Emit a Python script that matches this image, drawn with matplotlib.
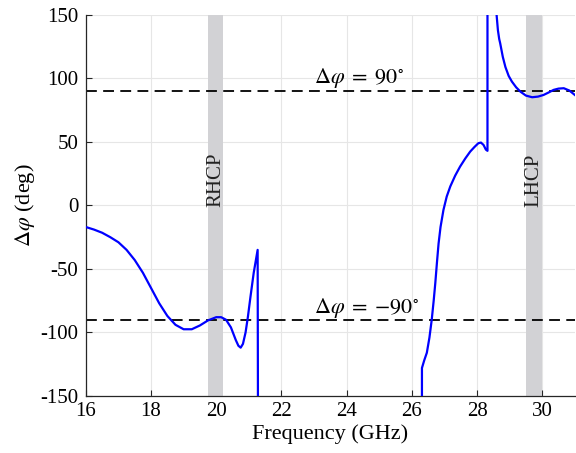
import numpy as np
import matplotlib
matplotlib.use("Agg")
import matplotlib.pyplot as plt

plt.rcParams['font.family'] = ['Liberation Serif', 'DejaVu Serif']
plt.rcParams['mathtext.fontset'] = 'stix'
plt.rcParams['axes.unicode_minus'] = False

# phase difference curve (GHz, deg); NaN breaks the line
freq_low = [16.0, 16.25, 16.5, 16.75, 17.0, 17.25, 17.5, 17.75, 18.0, 18.25,
            18.5, 18.75, 19.0, 19.25, 19.5, 19.75, 20.0, 20.15, 20.3, 20.45,
            20.6, 20.68, 20.75, 20.82, 20.9, 20.97, 21.05, 21.15, 21.27, 21.28]
phase_low = [-17, -19, -21.5, -25, -29, -35, -43, -53, -65, -77,
             -87, -94, -97.5, -97.5, -94.5, -90.5, -88, -88, -90, -96,
             -106, -110.5, -112, -109, -100, -88, -72, -53, -35, -160]

freq_mid = [26.31, 26.31, 26.38, 26.46, 26.54, 26.61, 26.67, 26.72, 26.77,
            26.82, 26.88, 26.97, 27.07, 27.18, 27.33, 27.48, 27.64, 27.79,
            27.92, 28.04, 28.12, 28.2, 28.27, 28.32, 28.32]
phase_mid = [-160, -128, -122, -116, -104, -90, -75, -61, -45,
             -30, -17, -3.5, 7, 15, 23.5, 30.6, 37, 42.4,
             46, 49, 49.5, 47.6, 44, 43, 160]

freq_high = [28.6, 28.64, 28.68, 28.71, 28.79, 28.87, 28.97, 29.07, 29.2,
             29.33, 29.5, 29.69, 29.87, 30.04, 30.2, 30.35, 30.5, 30.66,
             30.83, 31.0]
phase_high = [150, 138, 131, 127.7, 117, 109, 102, 97.5, 93,
              89.6, 86.5, 85.2, 85.7, 87, 89, 91, 92, 92.3,
              90.5, 87]

bands = [(19.75, 20.2, 'RHCP'), (29.5, 30.0, 'LHCP')]
xticks = [16, 18, 20, 22, 24, 26, 28, 30]
yticks = [-150, -100, -50, 0, 50, 100, 150]

freq = freq_low + [np.nan] + freq_mid + [np.nan] + freq_high
phase = phase_low + [np.nan] + phase_mid + [np.nan] + phase_high

fig = plt.figure(figsize=(5.76, 4.53), dpi=100)
ax = fig.add_axes([0.149, 0.126, 0.849, 0.841])

for x0, x1, name in bands:
    ax.axvspan(x0, x1, color='#d2d2d5', lw=0, zorder=1)
    ax.text((x0 + x1) / 2, 20, name, rotation=90, ha='center', va='center',
            fontsize=15, color='#222222', zorder=3)

ax.axhline(90, color='k', ls=(0, (6, 3.5)), lw=1.3, zorder=2)
ax.axhline(-90, color='k', ls=(0, (6, 3.5)), lw=1.3, zorder=2)
ax.text(23.0, 96.5, r'$\Delta\varphi\;=\;90^{\circ}$', fontsize=16,
        ha='left', va='baseline')
ax.text(23.0, -84.5, r'$\Delta\varphi\;=\;{-90}^{\circ}$', fontsize=16,
        ha='left', va='baseline')

ax.plot(freq, phase, color='#0000ff', lw=1.6, zorder=4)

ax.set_xlim(16, 31)
ax.set_ylim(-150, 150)
ax.set_xticks(xticks)
ax.set_yticks(yticks)
ax.grid(True, color='#e6e6e6', lw=0.8, zorder=0)
ax.set_axisbelow(True)
ax.tick_params(direction='in', length=4, labelsize=15, color='#262626')
ax.tick_params(axis='y', pad=5.5)
ax.tick_params(axis='x', pad=4.5)
for s in ['top', 'right']:
    ax.spines[s].set_visible(False)
for s in ['left', 'bottom']:
    ax.spines[s].set_color('#262626')
    ax.spines[s].set_linewidth(0.9)

ax.set_xlabel('Frequency (GHz)', fontsize=16, labelpad=2)
ax.set_ylabel(r'$\Delta\varphi$ (deg)', fontsize=16, labelpad=2)

fig.savefig('out.png', dpi=100)
